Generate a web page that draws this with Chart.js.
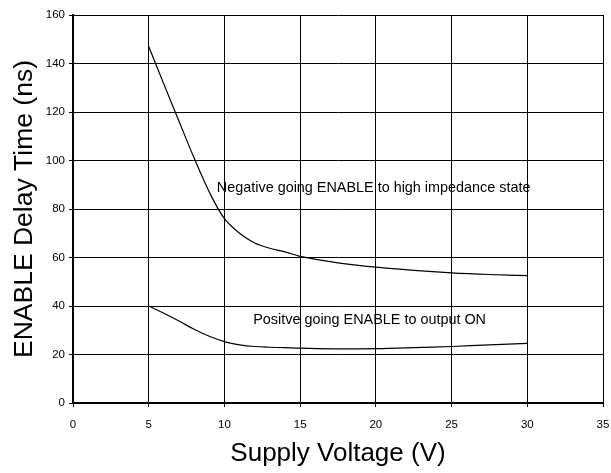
<!DOCTYPE html>
<html>
<head>
<meta charset="utf-8">
<script src="https://cdn.jsdelivr.net/npm/chart.js@4"></script>
<style>
html,body{margin:0;padding:0;background:#fff;}
#wrap{width:611px;height:473px;}
</style>
</head>
<body>
<div id="wrap"><canvas id="c" width="611" height="473"></canvas></div>
<script>
const voltage = [5, 6, 7, 8, 9, 10, 11, 12, 13, 14, 15, 17.5, 20, 22.5, 25, 27.5, 30];
const negativeGoing = [147, 131.5, 116.2, 101, 87, 76, 70, 66, 63.8, 62.3, 60.5, 57.8, 56, 54.7, 53.7, 53, 52.5];
const positiveGoing = [40, 37, 33.8, 30.4, 27.5, 25.3, 24, 23.3, 23, 22.8, 22.6, 22.3, 22.4, 22.8, 23.3, 24, 24.6];
const xTicks = [0, 5, 10, 15, 20, 25, 30, 35];
const yTicks = [0, 20, 40, 60, 80, 100, 120, 140, 160];
const xTitle = 'Supply Voltage (V)';
const yTitle = 'ENABLE Delay Time (ns)';
const labels = [
  {text: 'Negative going ENABLE to high impedance state', x: 9.5, y: 88.8},
  {text: 'Positve going ENABLE to output ON', x: 11.9, y: 34.2}
];

const toPts = (xs, ys) => xs.map((x, i) => ({x: x, y: ys[i]}));
const FONT = '"Liberation Sans", Arial, sans-serif';

const textPlugin = {
  id: 'curveLabels',
  afterDatasetsDraw(chart) {
    const ctx = chart.ctx;
    const xs = chart.scales.x, ys = chart.scales.y;
    ctx.save();
    ctx.font = '14.4px ' + FONT;
    ctx.fillStyle = '#000';
    ctx.textAlign = 'left';
    ctx.textBaseline = 'middle';
    labels.forEach(l => ctx.fillText(l.text, xs.getPixelForValue(l.x), ys.getPixelForValue(l.y)));
    ctx.restore();
  }
};

new Chart(document.getElementById('c'), {
  type: 'line',
  data: {
    datasets: [
      {data: toPts(voltage, negativeGoing), borderColor: '#000', borderWidth: 1.2, pointRadius: 0, tension: 0.35, fill: false},
      {data: toPts(voltage, positiveGoing), borderColor: '#000', borderWidth: 1.2, pointRadius: 0, tension: 0.35, fill: false}
    ]
  },
  options: {
    responsive: false,
    animation: false,
    layout: {padding: {top: 15, right: 8, left: 0, bottom: 0}},
    plugins: {legend: {display: false}, tooltip: {enabled: false}},
    scales: {
      x: {
        type: 'linear', min: 0, max: 35,
        afterBuildTicks(s) { s.ticks = xTicks.map(v => ({value: v})); },
        afterFit(s) { s.height = 70; s.paddingLeft = 0; s.paddingRight = 0; },
        grid: {color: '#000', lineWidth: 1, tickLength: 4, drawTicks: true},
        border: {color: '#000', width: 2},
        ticks: {color: '#000', font: {family: FONT, size: 11.5}, padding: 11, maxRotation: 0},
        title: {display: true, text: xTitle, color: '#000', font: {family: FONT, size: 26}, padding: {top: 4, bottom: 4}}
      },
      y: {
        type: 'linear', min: 0, max: 160,
        afterBuildTicks(s) { s.ticks = yTicks.map(v => ({value: v})); },
        afterFit(s) { s.width = 73; s.paddingTop = 0; s.paddingBottom = 0; },
        grid: {color: '#000', lineWidth: 1, tickLength: 4, drawTicks: true},
        border: {color: '#000', width: 2},
        ticks: {color: '#000', font: {family: FONT, size: 11.5}, padding: 4},
        title: {display: true, text: yTitle, color: '#000', font: {family: FONT, size: 26.5}, padding: {top: 9, bottom: 4}}
      }
    }
  },
  plugins: [textPlugin]
});
</script>
</body>
</html>
